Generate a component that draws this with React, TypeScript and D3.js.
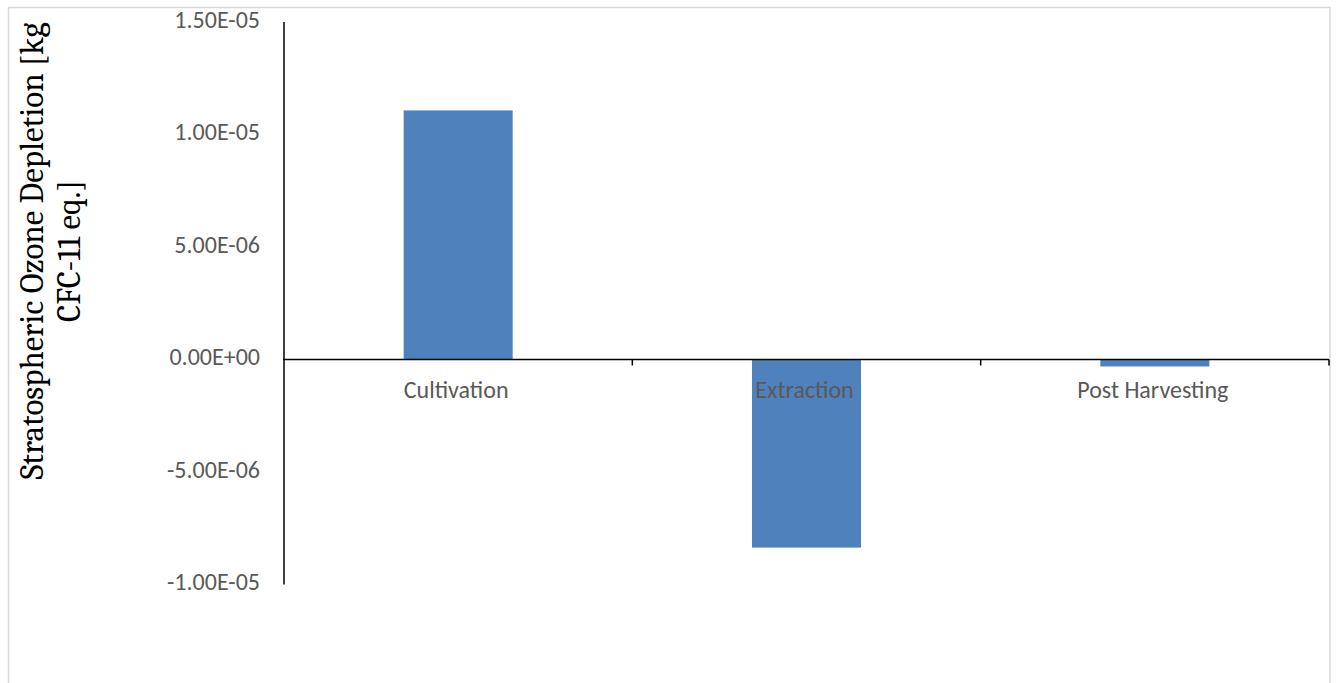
import React from "react";
import * as d3 from "d3";

const categories: string[] = ["Cultivation", "Extraction", "Post Harvesting"];
const values: number[] = [1.107e-5, -8.36e-6, -3.1e-7];
const yTicks: number[] = [-1e-5, -5e-6, 0, 5e-6, 1e-5, 1.5e-5];
const yTitleLines: string[] = ["Stratospheric Ozone Depletion [kg", "CFC-11 eq.]"];

const W = 1337;
const H = 683;
const plot = { left: 284, right: 1329, top: 22, bottom: 584.5 };

const fmtSci = (v: number): string => {
  if (v === 0) return "0.00E+00";
  const s = v.toExponential(2); // e.g. "1.50e-5"
  const [m, e] = s.split("e");
  const exp = parseInt(e, 10);
  const sign = exp < 0 ? "-" : "+";
  return `${m}E${sign}${String(Math.abs(exp)).padStart(2, "0")}`;
};

export default function App() {
  const y = d3.scaleLinear().domain([-1e-5, 1.5e-5]).range([plot.bottom, plot.top]);
  const x = d3
    .scaleBand<string>()
    .domain(categories)
    .range([plot.left, plot.right])
    .paddingInner(0.687)
    .paddingOuter(0.3435);
  const band = d3.scaleBand<string>().domain(categories).range([plot.left, plot.right]);
  const y0 = y(0);
  const labelFont = "Calibri, Carlito, 'Open Sans', sans-serif";

  return (
    <svg
      width={W}
      height={H}
      style={{ position: "absolute", left: 0, top: 0, background: "#fff" }}
    >
      <rect x={8.5} y={7.5} width={1321.5} height={720} fill="#fff" stroke="#d9d9d9" strokeWidth={1.5} />

      {/* bars */}
      {categories.map((c, i) => {
        const v = values[i];
        const top = Math.min(y(v), y0);
        const h = Math.abs(y(v) - y0);
        return <rect key={c} x={x(c)} y={top} width={x.bandwidth()} height={h} fill="#4f81bd" />;
      })}

      {/* y axis */}
      <line x1={plot.left} x2={plot.left} y1={plot.top} y2={plot.bottom} stroke="#000" strokeWidth={1.5} />
      {yTicks.map((t) => (
        <text
          key={t}
          x={260}
          y={y(t)}
          textAnchor="end"
          dominantBaseline="middle"
          fontFamily={labelFont}
          fontSize={24}
          fill="#595959"
        >
          {fmtSci(t)}
        </text>
      ))}

      {/* x axis at zero */}
      <line x1={plot.left - 1} x2={plot.right} y1={y0} y2={y0} stroke="#000" strokeWidth={1.5} />
      {categories.map((c) => (
        <line
          key={"t" + c}
          x1={(band(c) as number) + band.bandwidth()}
          x2={(band(c) as number) + band.bandwidth()}
          y1={y0}
          y2={y0 + 6}
          stroke="#000"
          strokeWidth={1.5}
        />
      ))}
      {categories.map((c) => (
        <text
          key={"l" + c}
          x={(band(c) as number) + band.bandwidth() / 2 - 2}
          y={398}
          textAnchor="middle"
          fontFamily={labelFont}
          fontSize={24}
          fill="#595959"
        >
          {c}
        </text>
      ))}

      {/* y axis title */}
      <g transform="translate(43,251) rotate(-90)">
        {yTitleLines.map((line, i) => (
          <text
            key={line}
            x={0}
            y={i * 37}
            textAnchor="middle"
            fontFamily="Cambria, 'DejaVu Serif', serif"
            fontSize={33}
            fill="#000"
          >
            {line}
          </text>
        ))}
      </g>
    </svg>
  );
}
